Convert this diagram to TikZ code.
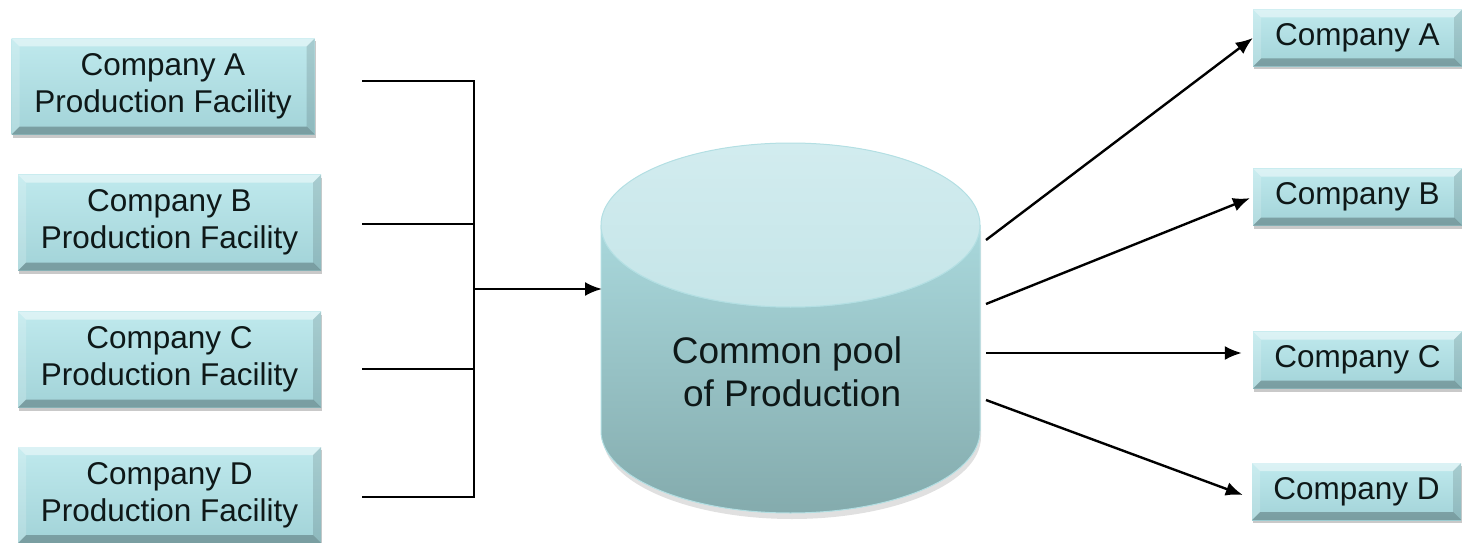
\documentclass[tikz,border=0pt]{standalone}
\usepackage{fontspec}
\setmainfont{Liberation Sans}
\usetikzlibrary{arrows.meta,shadows}
\definecolor{boxtop}{HTML}{BFE9ED}
\definecolor{boxbot}{HTML}{A2D3D8}
\definecolor{cyltop}{HTML}{A9D8DC}
\definecolor{cylbot}{HTML}{84ABAD}
\definecolor{lidtop}{HTML}{D2ECEF}
\definecolor{lidbot}{HTML}{C5E5E8}
\definecolor{cylline}{HTML}{B3DFE3}
\definecolor{txt}{HTML}{0E1818}
\tikzset{
  bevelbox/.style={rectangle, inner sep=0pt, top color=boxtop, bottom color=boxbot,
    draw=none, align=center, text=txt,
    drop shadow={shadow xshift=1pt, shadow yshift=-3pt, opacity=0.3, fill=black!70},
    path picture={
      \fill[white,opacity=0.45] (path picture bounding box.north west) -- (path picture bounding box.north east)
        -- ([xshift=-8pt,yshift=-8pt]path picture bounding box.north east) -- ([xshift=8pt,yshift=-8pt]path picture bounding box.north west) -- cycle;
      \fill[black,opacity=0.25] (path picture bounding box.south west) -- (path picture bounding box.south east)
        -- ([xshift=-8pt,yshift=8pt]path picture bounding box.south east) -- ([xshift=8pt,yshift=8pt]path picture bounding box.south west) -- cycle;
      \fill[white,opacity=0.18] (path picture bounding box.north west) -- (path picture bounding box.south west)
        -- ([xshift=8pt,yshift=8pt]path picture bounding box.south west) -- ([xshift=8pt,yshift=-8pt]path picture bounding box.north west) -- cycle;
      \fill[black,opacity=0.12] (path picture bounding box.north east) -- (path picture bounding box.south east)
        -- ([xshift=-8pt,yshift=8pt]path picture bounding box.south east) -- ([xshift=-8pt,yshift=-8pt]path picture bounding box.north east) -- cycle;
    }},
  leftbox/.style={bevelbox, minimum width=303pt, minimum height=96pt, font=\fontsize{31.5}{37}\selectfont},
  rightbox/.style={bevelbox, minimum width=209pt, minimum height=57pt, font=\fontsize{31.5}{37}\selectfont},
  conn/.style={line width=2.4pt, black},
  arr/.style={conn, -{Latex[length=17pt,width=14pt]}},
}
\begin{document}
\begin{tikzpicture}[x=1pt,y=-1pt]
\useasboundingbox (0,0) rectangle (1462,543);

% left boxes
\node[leftbox] (lA) at (163,86.5) {Company A\\Production Facility};
\node[leftbox] (lB) at (169.5,222.5) {Company B\\Production Facility};
\node[leftbox] (lC) at (169.5,359.5) {Company C\\Production Facility};
\node[leftbox] (lD) at (169.5,495) {Company D\\Production Facility};

% right boxes
\node[rightbox] (rA) at (1357.5,38) {Company A};
\node[rightbox] (rB) at (1357.5,197) {Company B};
\node[rightbox] (rC) at (1357.5,360) {Company C};
\node[rightbox] (rD) at (1356.5,491.5) {Company D};

% cylinder
\fill[black,opacity=0.12] (603,231) -- (603,437) arc[start angle=180,end angle=0,x radius=189,y radius=82] -- (981,231) -- cycle;
\path[top color=cyltop, bottom color=cylbot, draw=cylline, line width=1pt]
  (601,225) -- (601,431) arc[start angle=180,end angle=0,x radius=189.5,y radius=82] -- (980,225)
  arc[start angle=0,end angle=180,x radius=189.5,y radius=82] -- cycle;
\path[top color=lidtop, bottom color=lidbot, draw=cylline, line width=1pt]
  (790.5,225) ellipse[x radius=189.5,y radius=82];
\node[font=\fontsize{37}{43}\selectfont, text=txt, align=center] (pool) at (787,372) {Common pool\\\ of Production};

% connection points on the cylinder
\coordinate (pin) at (602,289);
\coordinate (cA) at (986,240);
\coordinate (cB) at (986,304);
\coordinate (cC) at (986,353);
\coordinate (cD) at (986,400);

% bracket joining the four facilities
\coordinate (jA) at (362,81);
\coordinate (jB) at (362,224);
\coordinate (jC) at (362,369);
\coordinate (jD) at (362,497);
\coordinate (bA) at (474,81);
\coordinate (bD) at (474,497);
\coordinate (bM) at (474,289);
\draw[conn] (jA) -- (bA) -- (bD) -- (jD);
\draw[conn] (jB) -- (jB -| bA);
\draw[conn] (jC) -- (jC -| bA);
\draw[arr] (bM) -- (pin);

% outgoing arrows
\draw[arr] (cA) -- (rA.west);
\draw[arr, shorten >=3pt] (cB) -- (rB.west);
\draw[arr, shorten >=11pt] (cC) -- (cC -| rC.west);
\draw[arr] (cD) -- ([xshift=-9pt,yshift=-3.5pt]rD.west);
\end{tikzpicture}
\end{document}
